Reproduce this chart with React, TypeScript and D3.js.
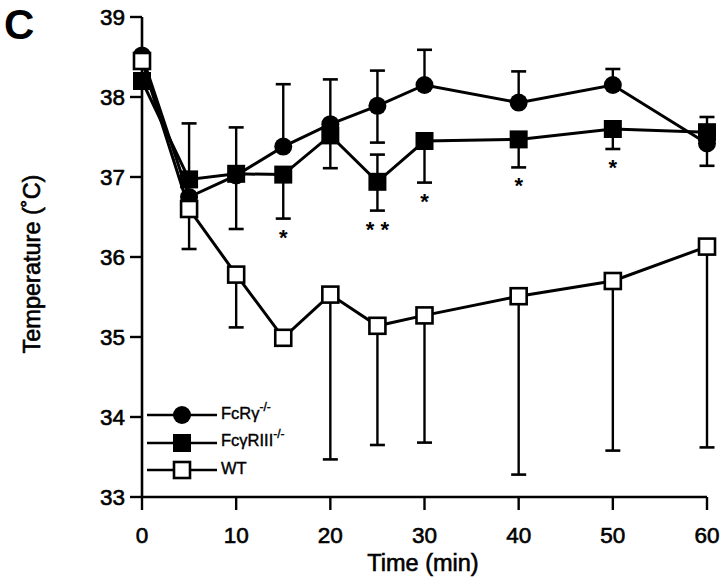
import React from "react";
import * as d3 from "d3";

const times = [0, 5, 10, 15, 20, 25, 30, 40, 50, 60];
const fcrg = [38.52, 36.75, 37.02, 37.38, 37.66, 37.89, 38.15, 37.93, 38.15, 37.42];
const fcgr3 = [38.2, 36.97, 37.04, 37.03, 37.52, 36.94, 37.45, 37.47, 37.6, 37.56];
const wt = [38.45, 36.6, 35.78, 34.99, 35.53, 35.14, 35.27, 35.51, 35.7, 36.13];

const fcrgUpper = [null, null, null, 38.16, 38.22, 38.33, 38.59, 38.32, 38.35, null];
const fcrgLower = [null, null, 36.35, null, null, 37.43, null, null, null, null];
const fcgr3Upper = [null, 37.67, 37.62, null, null, 37.28, null, null, null, 37.75];
const fcgr3Lower = [null, null, null, 36.48, 37.11, 36.58, 36.93, 37.12, 37.35, 37.14];
const wtLower = [null, 36.1, 35.12, null, 33.47, 33.65, 33.68, 33.28, 33.58, 33.62];

const sigTimes = [15, 25, 30, 40, 50];
const sigLabels = ["*", "* *", "*", "*", "*"];

const xTicks = [0, 10, 20, 30, 40, 50, 60];
const yTicks = [33, 34, 35, 36, 37, 38, 39];

const FONT = "'Liberation Sans', Arial, Helvetica, sans-serif";

export default function App() {
  const x = d3.scaleLinear().domain([0, 60]).range([142, 707]);
  const y = d3.scaleLinear().domain([33, 39]).range([497, 17]);
  const line = d3
    .line<[number, number]>()
    .x((d) => x(d[0]))
    .y((d) => y(d[1]));
  const pts = (vals: number[]) => times.map((t, i) => [t, vals[i]] as [number, number]);

  const errBars = (vals: number[], ends: (number | null)[], key: string) =>
    ends.map((e, i) =>
      e == null ? null : (
        <g key={key + i}>
          <line x1={x(times[i])} x2={x(times[i])} y1={y(vals[i])} y2={y(e)} stroke="#000" strokeWidth={2.4} />
          <line x1={x(times[i]) - 7.5} x2={x(times[i]) + 7.5} y1={y(e)} y2={y(e)} stroke="#000" strokeWidth={2.6} />
        </g>
      )
    );

  const lowerCapFor = (t: number) => {
    const i = times.indexOf(t);
    return fcgr3Lower[i] as number;
  };

  return (
    <div style={{ position: "absolute", left: 0, top: 0 }}>
      <svg width={720} height={578} style={{ display: "block", background: "#fff" }} fontFamily={FONT}>
        <rect width={720} height={578} fill="#fff" />
        <text x={4} y={39} fontSize={42} fontWeight="bold">C</text>

        {/* error bars */}
        {errBars(fcrg, fcrgUpper, "cu")}
        {errBars(fcrg, fcrgLower, "cl")}
        {errBars(fcgr3, fcgr3Upper, "su")}
        {errBars(fcgr3, fcgr3Lower, "sl")}
        {errBars(wt, wtLower, "wl")}

        {/* axes */}
        <g>
          <line x1={x(0)} x2={x(60)} y1={y(33)} y2={y(33)} stroke="#000" strokeWidth={2.6} />
          {xTicks.map((t) => (
            <g key={"xt" + t}>
              <line x1={x(t)} x2={x(t)} y1={y(33)} y2={y(33) + 13} stroke="#000" strokeWidth={2.4} />
              <text x={x(t)} y={543} fontSize={22.5} textAnchor="middle" stroke="#000" strokeWidth={0.6}>
                {t}
              </text>
            </g>
          ))}
          <line x1={x(0)} x2={x(0)} y1={y(33) + 1} y2={y(39)} stroke="#000" strokeWidth={2.6} />
          {yTicks.map((v) => (
            <g key={"yt" + v}>
              <line x1={x(0) - 12} x2={x(0)} y1={y(v)} y2={y(v)} stroke="#000" strokeWidth={2.4} />
              <text x={125} y={y(v) + 8} fontSize={22.5} textAnchor="end" stroke="#000" strokeWidth={0.6}>
                {v}
              </text>
            </g>
          ))}
          <text x={423} y={571} fontSize={23.5} textAnchor="middle" stroke="#000" strokeWidth={0.6}>
            Time (min)
          </text>
          <text
            transform="translate(40,264) rotate(-90)"
            fontSize={23.5}
            textAnchor="middle"
            stroke="#000"
            strokeWidth={0.6}
          >
            Temperature (˚C)
          </text>
        </g>

        {/* lines */}
        <path d={line(pts(fcrg)) || ""} fill="none" stroke="#000" strokeWidth={3} />
        <path d={line(pts(fcgr3)) || ""} fill="none" stroke="#000" strokeWidth={3} />
        <path d={line(pts(wt)) || ""} fill="none" stroke="#000" strokeWidth={3} />

        {/* markers */}
        {times.map((t, i) => (
          <circle key={"c" + i} cx={x(t)} cy={y(fcrg[i])} r={9} fill="#000" />
        ))}
        {times.map((t, i) => (
          <rect key={"s" + i} x={x(t) - 9} y={y(fcgr3[i]) - 9} width={18} height={18} fill="#000" />
        ))}
        {times.map((t, i) => (
          <rect
            key={"w" + i}
            x={x(t) - 8}
            y={y(wt[i]) - 8}
            width={16}
            height={16}
            fill="#fff"
            stroke="#000"
            strokeWidth={2.6}
          />
        ))}

        {/* significance */}
        {sigTimes.map((t, i) => (
          <text
            key={"sig" + i}
            x={x(t)}
            y={y(lowerCapFor(t)) + 26}
            fontSize={22}
            fontWeight="bold"
            textAnchor="middle"
          >
            {sigLabels[i]}
          </text>
        ))}

        {/* legend */}
        <g>
          <line x1={147} x2={217} y1={415} y2={415} stroke="#000" strokeWidth={2.6} />
          <circle cx={182} cy={415} r={9} fill="#000" />
          <text x={221} y={419} fontSize={16.5} stroke="#000" strokeWidth={0.4}>
            FcRγ<tspan dy={-8} fontSize={12}>-/-</tspan>
          </text>
          <line x1={147} x2={217} y1={443} y2={443} stroke="#000" strokeWidth={2.6} />
          <rect x={173} y={434} width={18} height={18} fill="#000" />
          <text x={221} y={446} fontSize={16.5} stroke="#000" strokeWidth={0.4}>
            FcγRIII<tspan dy={-8} fontSize={12}>-/-</tspan>
          </text>
          <line x1={147} x2={217} y1={470} y2={470} stroke="#000" strokeWidth={2.6} />
          <rect x={174} y={462} width={16} height={16} fill="#fff" stroke="#000" strokeWidth={2.6} />
          <text x={221} y={474} fontSize={16.5} stroke="#000" strokeWidth={0.4}>
            WT
          </text>
        </g>
      </svg>
    </div>
  );
}
